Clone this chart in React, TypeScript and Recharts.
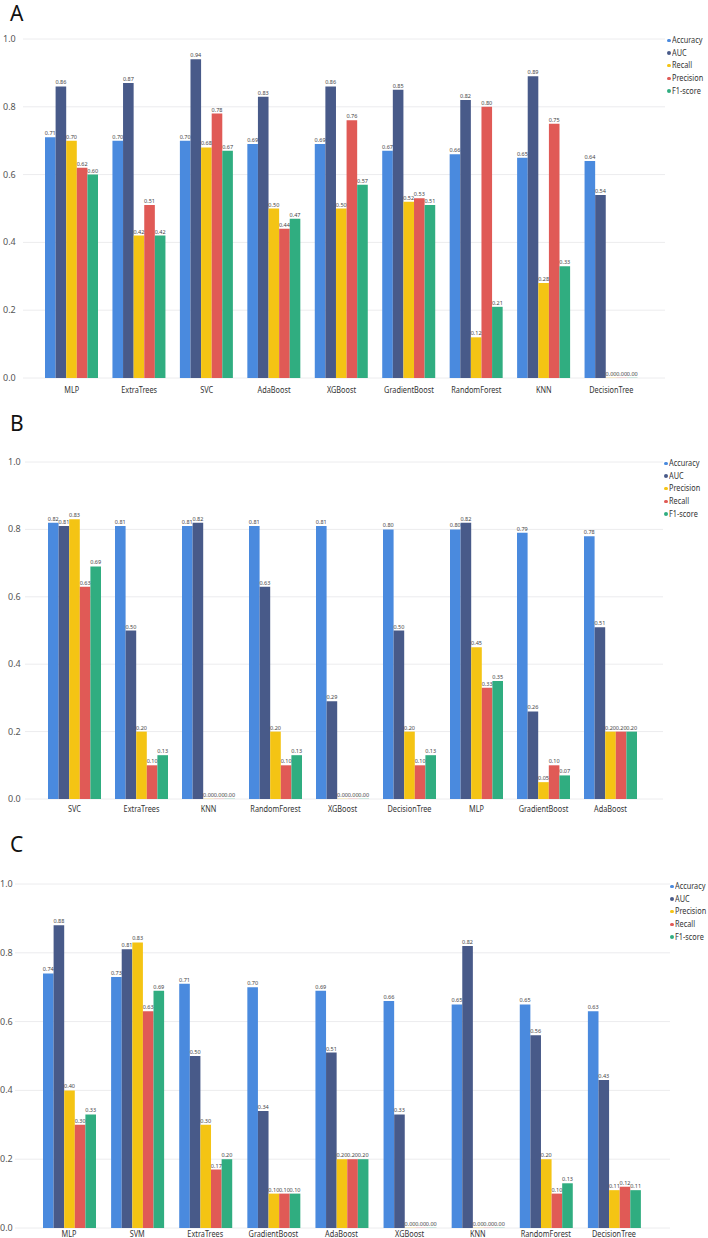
import { BarChart, Bar, XAxis, YAxis, CartesianGrid, LabelList } from "recharts";

const COLORS = ["#4a8ade", "#485a89", "#f4c414", "#e05a56", "#30ad80"];
const FONT = '"Noto Sans", "Open Sans", sans-serif';
const SQUEEZE = 0.77; // the original font is narrower than Noto Sans

// Panel A
const modelsA = ["MLP", "ExtraTrees", "SVC", "AdaBoost", "XGBoost", "GradientBoost", "RandomForest", "KNN", "DecisionTree"];
const namesA = ["Accuracy", "AUC", "Recall", "Precision", "F1-score"];
const accuracyA = [0.71, 0.7, 0.7, 0.69, 0.69, 0.67, 0.66, 0.65, 0.64];
const aucA = [0.86, 0.87, 0.94, 0.83, 0.86, 0.85, 0.82, 0.89, 0.54];
const recallA = [0.7, 0.42, 0.68, 0.5, 0.5, 0.52, 0.12, 0.28, 0.0];
const precisionA = [0.62, 0.51, 0.78, 0.44, 0.76, 0.53, 0.8, 0.75, 0.0];
const f1A = [0.6, 0.42, 0.67, 0.47, 0.57, 0.51, 0.21, 0.33, 0.0];

// Panel B
const modelsB = ["SVC", "ExtraTrees", "KNN", "RandomForest", "XGBoost", "DecisionTree", "MLP", "GradientBoost", "AdaBoost"];
const namesB = ["Accuracy", "AUC", "Precision", "Recall", "F1-score"];
const accuracyB = [0.82, 0.81, 0.81, 0.81, 0.81, 0.8, 0.8, 0.79, 0.78];
const aucB = [0.81, 0.5, 0.82, 0.63, 0.29, 0.5, 0.82, 0.26, 0.51];
const precisionB = [0.83, 0.2, 0.0, 0.2, 0.0, 0.2, 0.45, 0.05, 0.2];
const recallB = [0.63, 0.1, 0.0, 0.1, 0.0, 0.1, 0.33, 0.1, 0.2];
const f1B = [0.69, 0.13, 0.0, 0.13, 0.0, 0.13, 0.35, 0.07, 0.2];

// Panel C
const modelsC = ["MLP", "SVM", "ExtraTrees", "GradientBoost", "AdaBoost", "XGBoost", "KNN", "RandomForest", "DecisionTree"];
const namesC = ["Accuracy", "AUC", "Precision", "Recall", "F1-score"];
const accuracyC = [0.74, 0.73, 0.71, 0.7, 0.69, 0.66, 0.65, 0.65, 0.63];
const aucC = [0.88, 0.81, 0.5, 0.34, 0.51, 0.33, 0.82, 0.56, 0.43];
const precisionC = [0.4, 0.83, 0.3, 0.1, 0.2, 0.0, 0.0, 0.2, 0.11];
const recallC = [0.3, 0.63, 0.17, 0.1, 0.2, 0.0, 0.0, 0.1, 0.12];
const f1C = [0.33, 0.69, 0.2, 0.1, 0.2, 0.0, 0.0, 0.13, 0.11];

const yTicks = [0, 0.2, 0.4, 0.6, 0.8, 1.0];

function buildRows(models: string[], names: string[], series: number[][]) {
  return models.map((m, i) => {
    const row: Record<string, string | number> = { name: m };
    names.forEach((n, k) => {
      row[n] = series[k][i];
    });
    return row;
  });
}

interface PanelProps {
  letter: string;
  top: number;
  height: number;
  xHeight: number;
  letterTop: number;
  marginTop: number;
  yWidth: number;
  marginRight: number;
  padLeft: number;
  padRight: number;
  tickX: number;
  labelDy: number;
  legendX: number;
  legendY: number;
  models: string[];
  names: string[];
  series: number[][];
}

function Panel(p: PanelProps) {
  const data = buildRows(p.models, p.names, p.series);

  return (
    <div style={{ position: "absolute", left: 0, top: p.top, width: 708, height: p.height }}>
      <div
        style={{
          position: "absolute",
          left: 10,
          top: p.letterTop,
          fontFamily: FONT,
          fontSize: 21,
          lineHeight: "21px",
          color: "#111",
          zIndex: 2,
        }}
      >
        {p.letter}
      </div>
      {/* legend drawn outside the chart so it does not shrink the plot */}
      <div
        style={{
          position: "absolute",
          left: p.legendX,
          top: p.legendY,
          width: 708 - p.legendX,
          fontFamily: FONT,
          fontSize: 9.5,
          color: "#333",
          zIndex: 2,
        }}
      >
        {p.names.map((n, i) => (
          <div key={n} style={{ height: 12.7, lineHeight: "12.7px", whiteSpace: "nowrap", display: "flex", alignItems: "center" }}>
            <span
              style={{
                display: "inline-block",
                flex: "none",
                width: 3.5,
                height: 3.5,
                borderRadius: 2,
                background: COLORS[i],
                marginRight: 1,
              }}
            />
            <span style={{ display: "inline-block", transform: `scaleX(${SQUEEZE})`, transformOrigin: "left center" }}>{n}</span>
          </div>
        ))}
      </div>
      <BarChart
        width={708}
        height={p.height}
        data={data}
        margin={{ top: p.marginTop, right: p.marginRight, left: 0, bottom: 0 }}
        barGap={0}
        barSize={10.6}
      >
        <CartesianGrid vertical={false} stroke="#ececee" />
        <XAxis
          dataKey="name"
          axisLine={false}
          tickLine={false}
          tickSize={0}
          interval={0}
          padding={{ left: p.padLeft, right: p.padRight }}
          height={p.xHeight}
          tick={(t: any) => (
            <text
              transform={`translate(${t.x},${t.y + p.labelDy}) scale(${SQUEEZE},1)`}
              textAnchor="middle"
              fontSize={9.5}
              fill="#333"
              fontFamily={FONT}
            >
              {t.payload.value}
            </text>
          )}
        />
        <YAxis
          domain={[0, 1]}
          ticks={yTicks}
          axisLine={false}
          tickLine={false}
          width={p.yWidth}
          tick={(t: any) => (
            <text x={p.tickX} y={t.y} dy={3} fontSize={9} fill="#555" fontFamily={FONT} textAnchor="start">
              {Number(t.payload.value).toFixed(1)}
            </text>
          )}
        />
        {p.names.map((n, i) => (
          <Bar key={n} dataKey={n} fill={COLORS[i]} minPointSize={0.2} isAnimationActive={false}>
            <LabelList
              dataKey={n}
              position="top"
              offset={2}
              fontSize={5.5}
              fill="#444"
              fontFamily={FONT}
              formatter={(v: any) => Number(v).toFixed(2)}
            />
          </Bar>
        ))}
      </BarChart>
    </div>
  );
}

export default function App() {
  return (
    <div style={{ position: "absolute", left: 0, top: 0, width: 708, height: 1238, background: "#fff", overflow: "hidden" }}>
      <Panel
        letter="A"
        top={0}
        height={398}
        xHeight={20}
        letterTop={3}
        marginTop={39}
        yWidth={23}
        marginRight={43}
        padLeft={15}
        padRight={20}
        tickX={3}
        labelDy={13}
        legendX={667}
        legendY={34}
        models={modelsA}
        names={namesA}
        series={[accuracyA, aucA, recallA, precisionA, f1A]}
      />
      <Panel
        letter="B"
        top={400}
        height={419}
        xHeight={20}
        letterTop={13}
        marginTop={62}
        yWidth={25}
        marginRight={45}
        padLeft={16}
        padRight={19}
        tickX={8}
        labelDy={11}
        legendX={664}
        legendY={57}
        models={modelsB}
        names={namesB}
        series={[accuracyB, aucB, precisionB, recallB, f1B]}
      />
      <Panel
        letter="C"
        top={820}
        height={418}
        xHeight={10}
        letterTop={14}
        marginTop={64}
        yWidth={15}
        marginRight={38}
        padLeft={20}
        padRight={22}
        tickX={0}
        labelDy={6.5}
        legendX={670}
        legendY={60}
        models={modelsC}
        names={namesC}
        series={[accuracyC, aucC, precisionC, recallC, f1C]}
      />
    </div>
  );
}
